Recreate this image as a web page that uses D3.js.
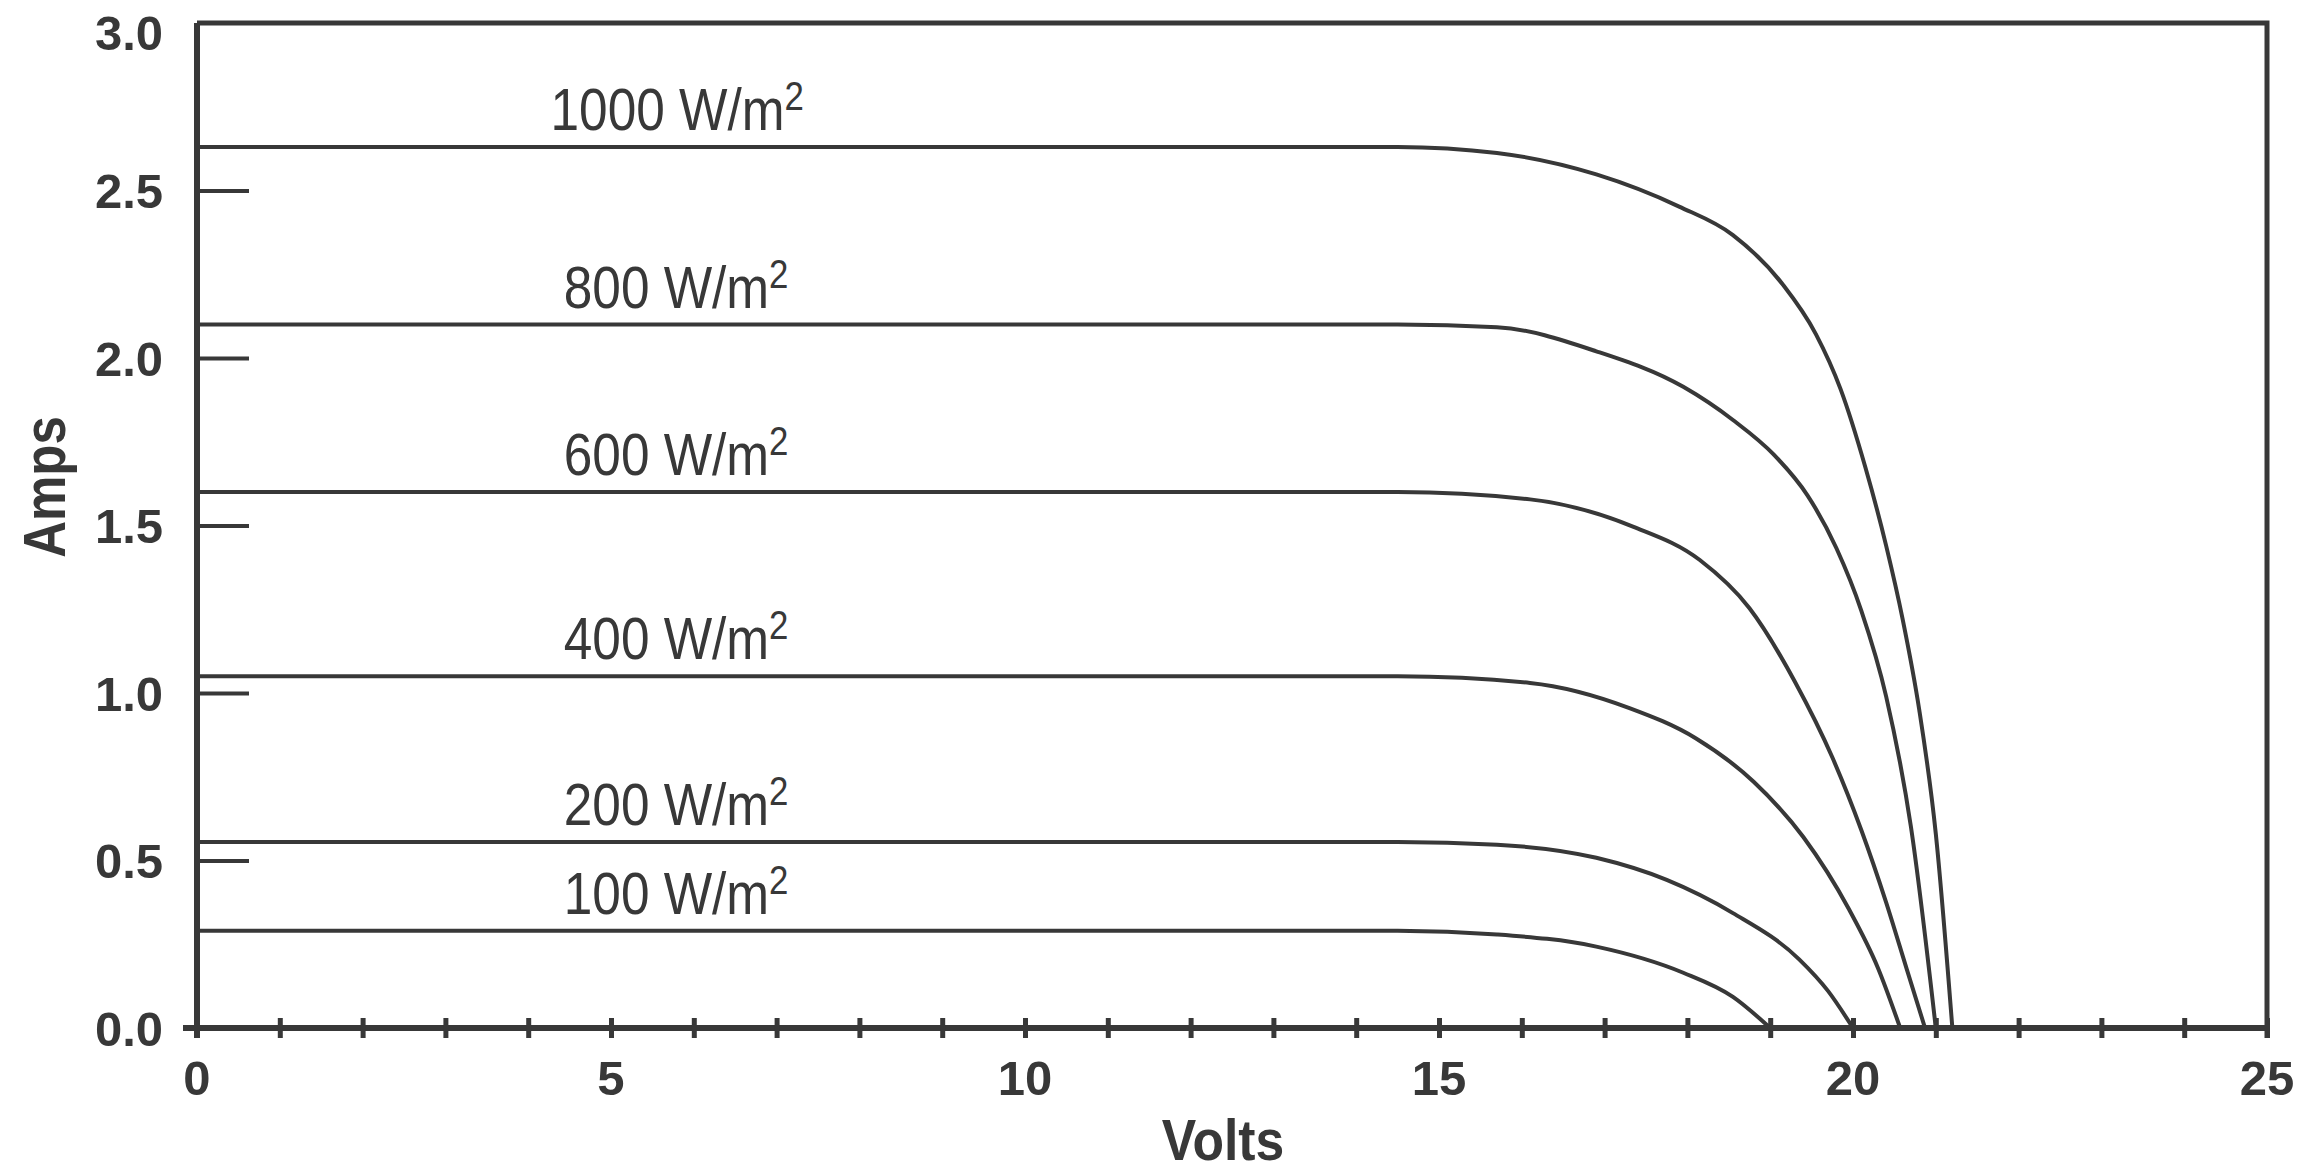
<!DOCTYPE html>
<html>
<head>
<meta charset="utf-8">
<script src="https://cdn.jsdelivr.net/npm/d3@7"></script>
<style>
  body { margin: 0; background: #fff; }
  svg { display: block; }
</style>
</head>
<body>
<script>
// chart size
let w = 2305;
let h = 1174;
let margin = { top: 23, right: 38, bottom: 146, left: 197 };

// irradiance labels for each curve
const irradiance = ["1000", "800", "600", "400", "200", "100"];

// I-V curves (volts, amps)
const volts1000 = [0, 14.5, 15.7, 16.9, 17.9, 18.55, 19.15, 19.55, 19.85, 20.15, 20.4, 20.6, 20.8, 21.0, 21.2];
const amps1000  = [2.63, 2.63, 2.612, 2.548, 2.452, 2.367, 2.22, 2.072, 1.907, 1.673, 1.44, 1.22, 0.95, 0.58, 0];

const volts800 = [0, 14.5, 15.7, 16.9, 17.95, 18.55, 19.05, 19.45, 19.8, 20.1, 20.4, 20.7, 21.0];
const amps800  = [2.10, 2.10, 2.092, 2.02, 1.914, 1.815, 1.71, 1.59, 1.432, 1.246, 0.99, 0.60, 0];

const volts600 = [0, 14.5, 16.1, 17.35, 18.15, 18.75, 19.3, 19.75, 20.1, 20.4, 20.65, 20.87];
const amps600  = [1.60, 1.60, 1.578, 1.496, 1.397, 1.253, 1.033, 0.808, 0.591, 0.375, 0.175, 0];

const volts400 = [0, 14.5, 16.1, 17.3, 18.1, 18.8, 19.4, 19.95, 20.3, 20.57];
const amps400  = [1.05, 1.05, 1.03, 0.955, 0.865, 0.735, 0.57, 0.355, 0.18, 0];

const volts200 = [0, 14.5, 15.7, 16.9, 17.75, 18.55, 19.35, 19.7, 20.0];
const amps200  = [0.555, 0.555, 0.547, 0.508, 0.442, 0.343, 0.205, 0.11, 0];

const volts100 = [0, 14.5, 15.7, 16.9, 17.95, 18.55, 19.0];
const amps100  = [0.29, 0.29, 0.279, 0.243, 0.165, 0.093, 0];

// axis ticks
const xTicks = d3.range(0, 26);
const xLabels = [0, 5, 10, 15, 20, 25];
const yTicks = [0, 0.5, 1.0, 1.5, 2.0, 2.5, 3.0];

let ink = "#383838";
let font = "'Liberation Sans', Arial, sans-serif";

let voltsList = [volts1000, volts800, volts600, volts400, volts200, volts100];
let ampsList = [amps1000, amps800, amps600, amps400, amps200, amps100];
let series = irradiance.map(function (name, i) {
    return {
        name: name,
        points: voltsList[i].map(function (v, j) { return [v, ampsList[i][j]]; })
    };
});

let x = d3.scaleLinear().domain([0, 25]).range([margin.left, w - margin.right]);
let y = d3.scaleLinear().domain([0, 3]).range([h - margin.bottom, margin.top]);

let svg = d3.select("body").append("svg")
    .attr("width", w)
    .attr("height", h);

// top and right frame
svg.append("path")
    .attr("d", "M" + x(0) + "," + y(3) + "H" + x(25) + "V" + (y(0) + 10))
    .attr("fill", "none")
    .attr("stroke", ink)
    .attr("stroke-width", 5);

// x axis: one crossing tick per volt, numbers every 5
let xAxis = svg.append("g")
    .attr("transform", "translate(0," + y(0) + ")")
    .call(d3.axisBottom(x).tickValues(xTicks).tickFormat("").tickSize(10).tickSizeOuter(0));
xAxis.select(".domain").attr("stroke", ink).attr("stroke-width", 6)
    .attr("d", "M" + (x(0) - 14) + ",0H" + x(25));
xAxis.selectAll(".tick line").attr("y1", -10).attr("stroke", ink).attr("stroke-width", 5);

svg.append("g").selectAll("text").data(xLabels).enter().append("text")
    .attr("x", function (d) { return x(d); })
    .attr("y", y(0) + 67)
    .attr("text-anchor", "middle")
    .attr("font-family", font)
    .attr("font-weight", "bold")
    .attr("font-size", 49)
    .attr("fill", ink)
    .text(function (d) { return d; });

// y axis with inward ticks
let yAxis = svg.append("g")
    .attr("transform", "translate(" + x(0) + ",0)")
    .call(d3.axisLeft(y).tickValues(yTicks).tickFormat(d3.format(".1f"))
        .tickSize(-52).tickSizeOuter(0).tickPadding(34));
yAxis.select(".domain").attr("stroke", ink).attr("stroke-width", 6)
    .attr("d", "M0," + y(3) + "V" + (y(0) + 10));
yAxis.selectAll(".tick line").attr("stroke", ink).attr("stroke-width", 4)
    .attr("x2", function (d) { return (d === 0 || d === 3) ? 0 : 52; });
yAxis.selectAll(".tick text")
    .attr("font-family", font)
    .attr("font-weight", "bold")
    .attr("font-size", 49)
    .attr("fill", ink)
    .attr("dy", function (d) { return d === 3 ? "0.55em" : "0.35em"; });

// axis titles (condensed look)
svg.append("text")
    .attr("transform", "translate(" + ((x(0) + x(25)) / 2 - 9) + ",1160) scale(0.89,1)")
    .attr("text-anchor", "middle")
    .attr("font-family", font)
    .attr("font-weight", "bold")
    .attr("font-size", 58)
    .attr("fill", ink)
    .text("Volts");

svg.append("text")
    .attr("transform", "translate(65,487) rotate(-90) scale(0.85,1)")
    .attr("text-anchor", "middle")
    .attr("font-family", font)
    .attr("font-weight", "bold")
    .attr("font-size", 60)
    .attr("fill", ink)
    .text("Amps");

// the curves
let line = d3.line()
    .x(function (d) { return x(d[0]); })
    .y(function (d) { return y(d[1]); })
    .curve(d3.curveMonotoneX);

svg.append("g").selectAll("path").data(series).enter().append("path")
    .attr("d", function (d) { return line(d.points); })
    .attr("fill", "none")
    .attr("stroke", ink)
    .attr("stroke-width", 4);

// curve labels sit just above the flat part
let labels = svg.append("g").selectAll("text").data(series).enter().append("text")
    .attr("transform", function (d) {
        let lx = d.name.length > 3 ? x(4.27) : x(4.43);
        return "translate(" + lx + "," + (y(d.points[0][1]) - 17) + ") scale(0.87,1)";
    })
    .attr("font-family", font)
    .attr("font-size", 59)
    .attr("fill", ink);
labels.append("tspan").text(function (d) { return d.name + " W/m"; });
labels.append("tspan").attr("dy", -20).attr("font-size", 40).text("2");
</script>
</body>
</html>
